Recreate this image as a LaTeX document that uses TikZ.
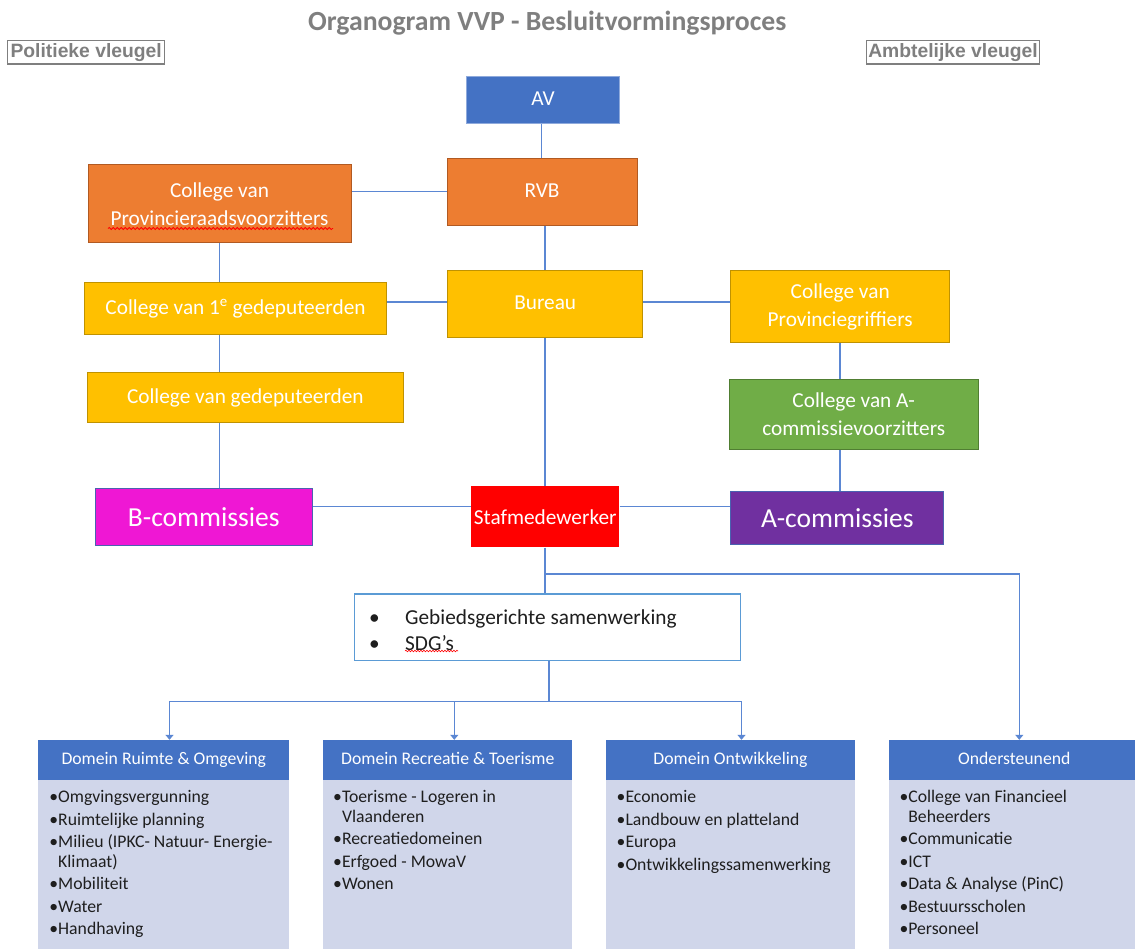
\documentclass[tikz,border=0pt]{standalone}
\usepackage{fontspec}
\setmainfont{Carlito}
\newfontfamily\arialfont{Liberation Sans}
\usetikzlibrary{arrows.meta,decorations.pathmorphing,calc}
\definecolor{vblue}{HTML}{4472C4}
\definecolor{vblueb}{HTML}{8FAADC}
\definecolor{connc}{HTML}{5B87D3}
\definecolor{orangec}{HTML}{ED7D31}
\definecolor{orangeb}{HTML}{B15A22}
\definecolor{yellowc}{HTML}{FFC000}
\definecolor{yellowb}{HTML}{C09200}
\definecolor{greenc}{HTML}{70AD47}
\definecolor{greenb}{HTML}{507E32}
\definecolor{magc}{HTML}{EF17D4}
\definecolor{purc}{HTML}{7030A0}
\definecolor{comb}{HTML}{4A62B0}
\definecolor{redc}{HTML}{FF0000}
\definecolor{bodyc}{HTML}{D0D6EA}
\definecolor{greyt}{HTML}{7F7F7F}
\definecolor{textc}{HTML}{1E1E1E}
\definecolor{sdgb}{HTML}{5B9BD5}
\begin{document}
\begin{tikzpicture}[x=1pt,y=-1pt,
  conn/.style={draw=connc, line width=1.5pt},
  arr/.style={conn, -{Triangle[width=8pt,length=5pt]}},
  box/.style={rectangle, inner sep=0pt, text=white, align=center, font=\fontsize{21.3}{28}\selectfont},
  oneline/.style={text height=15.5pt, text depth=4.5pt},
  orangebox/.style={box, fill=orangec, draw=orangeb, line width=1pt},
  yellowbox/.style={box, fill=yellowc, draw=yellowb, line width=1pt},
  greenbox/.style={box, fill=greenc, draw=greenb, line width=1pt},
  bluebox/.style={box, fill=vblue, draw=vblueb, line width=1pt},
  combox/.style={box, draw=comb, line width=1pt, font=\fontsize{27.5}{32}\selectfont},
  wing/.style={rectangle, draw=greyt, line width=1.5pt, inner sep=0pt, text=greyt, font=\arialfont\bfseries\fontsize{19.3}{22}\selectfont},
  hdr/.style={rectangle, fill=vblue, inner sep=0pt, text=white, minimum height=40pt, text height=12.7pt, text depth=3.5pt, font=\fontsize{17.7}{20}\selectfont},
  bodybox/.style={rectangle, fill=bodyc, inner sep=0pt, minimum height=170pt, anchor=north},
  itemtxt/.style={anchor=north west, inner sep=0pt, align=left, text=textc, font=\fontsize{17.7}{19.5}\selectfont},
  wavy/.style={draw=red, line width=0.8pt, decorate, decoration={snake, amplitude=1pt, segment length=4pt}}
]
\useasboundingbox (0,0) rectangle (1135,948);
\fill[white] (0,0) rectangle (1135,948);

% title and wings
\node[font=\bfseries\fontsize{27.7}{32}\selectfont, text=greyt] (title) at (547.3,23.3) {Organogram VVP - Besluitvormingsproces};
\node[wing, minimum width=157pt, minimum height=23.3pt] (pol) at (86.2,52.3) {Politieke vleugel};
\node[wing, minimum width=173.4pt, minimum height=23.3pt] (amb) at (953,52.3) {Ambtelijke vleugel};

% boxes
\node[bluebox, oneline, minimum width=152.6pt, minimum height=47.3pt] (av) at (543,99.7) {AV};
\node[orangebox, oneline, minimum width=190pt, minimum height=66.7pt] (rvb) at (542,191.7) {RVB};
\node[orangebox, minimum width=263pt, minimum height=77.7pt] (prov) at (219.5,203.8) {College van\\Provincieraadsvoorzitters};
\node[yellowbox, oneline, minimum width=195pt, minimum height=67pt] (bureau) at (545.2,304.2) {Bureau};
\node[yellowbox, minimum width=302pt, minimum height=52.7pt] (c1) at (235.5,308.6) {College van 1\textsuperscript{e} gedeputeerden};
\node[yellowbox, minimum width=315.4pt, minimum height=50pt] (ged) at (245.3,397.7) {College van gedeputeerden};
\node[combox, fill=magc, minimum width=217pt, minimum height=56.3pt] (bcom) at (203.8,516.9) {B-commissies};
\node[box, fill=redc, minimum width=148.3pt, minimum height=61.3pt] (staf) at (545.2,516.7) {Stafmedewerker};
\node[yellowbox, minimum width=218.5pt, minimum height=71.6pt] (griff) at (840.2,306.5) {College van\\Provinciegriffiers};
\node[greenbox, minimum width=248.6pt, minimum height=70.3pt] (avz) at (853.7,414.2) {College van A-\\commissievoorzitters};
\node[combox, fill=purc, minimum width=212.7pt, minimum height=53.3pt] (acom) at (837.3,517.7) {A-commissies};

% spell-check squiggles
\draw[wavy] (108,228.5) -- (333,228.5);

% SDG box
\node[rectangle, draw=sdgb, line width=1.2pt, fill=white, minimum width=386.4pt, minimum height=66.7pt] (sdg) at (547.5,627.3) {};
\node[anchor=north west, inner sep=0pt, align=left, text=textc, font=\fontsize{21.3}{26}\selectfont] (sdgtxt) at (369,606)
  {\strut\makebox[36pt][l]{\textbullet}Gebiedsgerichte samenwerking\\\makebox[36pt][l]{\textbullet}SDG’s};
\draw[wavy, line width=0.6pt, decoration={snake, amplitude=0.8pt, segment length=3pt}] (405,651) -- (458,651);

% domain boxes
\node[hdr, minimum width=251pt] (d1) at (163.8,760) {Domein Ruimte \& Omgeving};
\node[hdr, minimum width=248.7pt] (d2) at (447.8,760) {Domein Recreatie \& Toerisme};
\node[hdr, minimum width=249.4pt] (d3) at (730.5,760) {Domein Ontwikkeling};
\node[hdr, minimum width=250pt] (d4) at (1014.3,760) {Ondersteunend};
\node[bodybox, minimum width=251pt] (b1) at (d1.south) {};
\node[bodybox, minimum width=248.7pt] (b2) at (d2.south) {};
\node[bodybox, minimum width=249.4pt] (b3) at (d3.south) {};
\node[bodybox, minimum width=250pt] (b4) at (d4.south) {};

\node[itemtxt] (t1) at (49.2,788.75) {\strut\textbullet Omgvingsvergunning\\[3pt]
  \textbullet Ruimtelijke planning\\[3pt]
  \textbullet Milieu (IPKC- Natuur- Energie-\\
  \phantom{\textbullet}Klimaat)\\[3pt]
  \textbullet Mobiliteit\\[3pt]
  \textbullet Water\\[3pt]
  \textbullet Handhaving};
\node[itemtxt] (t2) at (333,788.75) {\strut\textbullet Toerisme - Logeren in\\
  \phantom{\textbullet}Vlaanderen\\[3pt]
  \textbullet Recreatiedomeinen\\[3pt]
  \textbullet Erfgoed - MowaV\\[3pt]
  \textbullet Wonen};
\node[itemtxt] (t3) at (616.5,788.75) {\strut\textbullet Economie\\[3pt]
  \textbullet Landbouw en platteland\\[3pt]
  \textbullet Europa\\[3pt]
  \textbullet Ontwikkelingssamenwerking};
\node[itemtxt] (t4) at (899.3,788.75) {\strut\textbullet College van Financieel\\
  \phantom{\textbullet}Beheerders\\[3pt]
  \textbullet Communicatie\\[3pt]
  \textbullet ICT\\[3pt]
  \textbullet Data \& Analyse (PinC)\\[3pt]
  \textbullet Bestuursscholen\\[3pt]
  \textbullet Personeel};

% connectors
\draw[conn] ([xshift=-1.7pt]av.south) -- ([xshift=-1.7pt]av.south |- rvb.north);
\draw[conn] (rvb.west) -- (rvb.west -| prov.east);
\draw[conn] (rvb.south -| bureau.north) -- (bureau.north);
\draw[conn] (prov.south) -- (prov.south |- c1.north);
\draw[conn] ([yshift=2pt]bureau.west) -- ([yshift=2pt]bureau.west -| c1.east);
\draw[conn] ([yshift=2pt]bureau.east) -- ([yshift=2pt]bureau.east -| griff.west);
\draw[conn] (prov.south |- c1.south) -- (prov.south |- ged.north);
\draw[conn] (prov.south |- ged.south) -- (prov.south |- bcom.north);
\draw[conn] (griff.south) -- (griff.south |- avz.north);
\draw[conn] (griff.south |- avz.south) -- (griff.south |- acom.north);
\draw[conn] (bureau.south) -- (bureau.south |- staf.north);
\draw[conn] ([yshift=10pt]staf.west) -- ([yshift=10pt]staf.west -| bcom.east);
\draw[conn] ([yshift=10pt]staf.east) -- ([yshift=10pt]staf.east -| acom.west);
\draw[conn] (staf.south) -- (staf.south |- sdg.north);
\coordinate (j1) at ($(staf.south)+(0,26.3)$);
\draw[arr] (j1) -| ([xshift=5pt]d4.north);
\coordinate (j2) at ($(sdg.south)+(1.5,40)$);
\draw[conn] (sdg.south -| j2) -- (j2);
\draw[arr] (j2) -| ([xshift=5.7pt]d1.north);
\draw[arr] (j2) -| ([xshift=6.5pt]d2.north);
\draw[arr] (j2) -| ([xshift=11pt]d3.north);
\end{tikzpicture}
\end{document}
